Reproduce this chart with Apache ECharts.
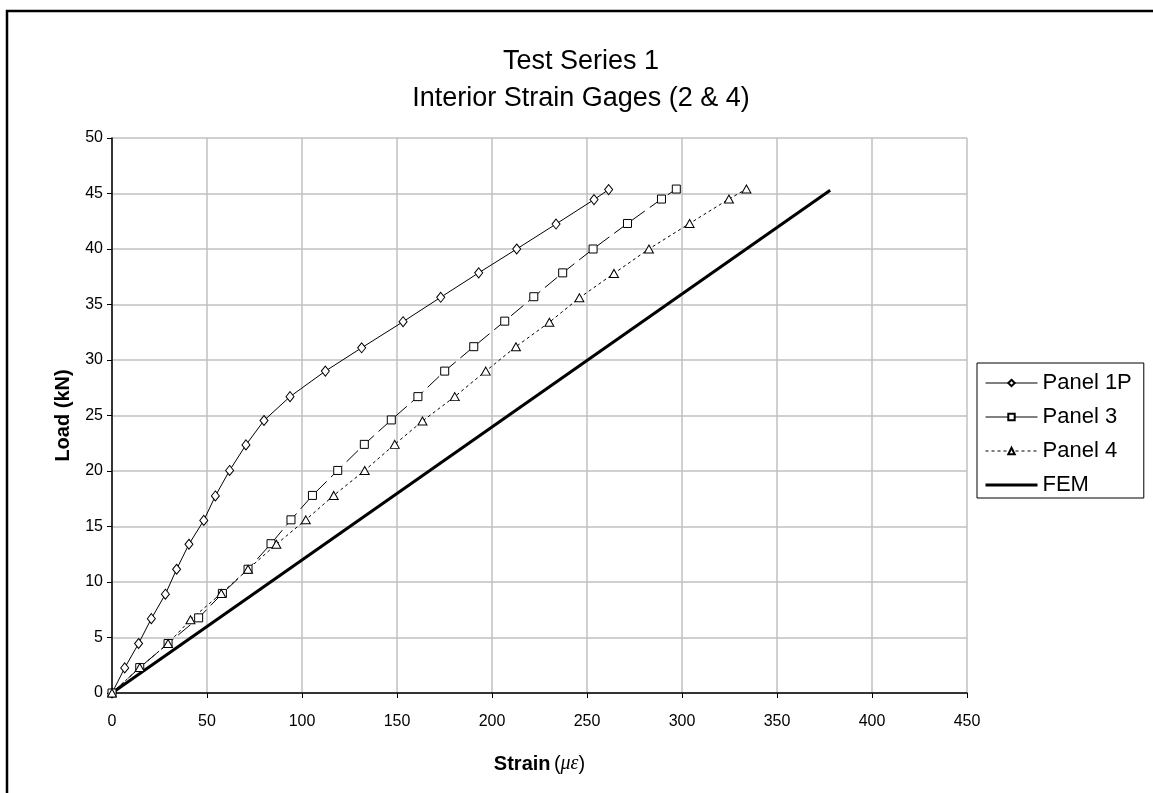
<!DOCTYPE html>
<html>
<head>
<meta charset="utf-8">
<script src="https://cdn.jsdelivr.net/npm/echarts@6/dist/echarts.min.js"></script>
<style>
html,body{margin:0;padding:0;background:#fff;}
#chart{width:1153px;height:793px;}
</style>
</head>
<body>
<div id="chart"></div>
<script>
// Values
const panel1P_strain = [0, 6.7, 14.0, 20.7, 28.1, 34.0, 40.5, 48.3, 54.4, 61.9, 70.5, 80.0, 93.7, 112.3, 131.4, 153.2, 173.0, 193.0, 213.0, 233.7, 253.7, 261.4];
const panel1P_load   = [0, 2.26, 4.46, 6.70, 8.90, 11.15, 13.40, 15.55, 17.75, 20.05, 22.35, 24.55, 26.70, 29.00, 31.10, 33.45, 35.65, 37.85, 40.00, 42.25, 44.45, 45.35];

const panel3_strain = [0, 14.6, 29.5, 45.6, 58.1, 71.6, 83.7, 94.2, 105.5, 118.8, 132.8, 147.0, 161.0, 175.1, 190.4, 206.7, 222.0, 237.2, 253.2, 271.3, 289.2, 297.0];
const panel3_load   = [0, 2.29, 4.46, 6.77, 8.97, 11.15, 13.45, 15.60, 17.80, 20.05, 22.40, 24.60, 26.70, 29.00, 31.20, 33.50, 35.70, 37.85, 40.00, 42.30, 44.50, 45.40];

const panel4_strain = [0, 14.6, 29.5, 41.3, 57.5, 71.6, 86.5, 102.0, 116.7, 133.0, 148.8, 163.4, 180.4, 196.7, 212.6, 230.2, 246.0, 264.2, 282.6, 304.0, 324.7, 333.9];
const panel4_load   = [0, 2.29, 4.46, 6.60, 8.97, 11.15, 13.40, 15.60, 17.80, 20.05, 22.40, 24.50, 26.70, 29.00, 31.20, 33.40, 35.60, 37.80, 40.00, 42.30, 44.50, 45.40];

const fem_strain = [0, 378];
const fem_load   = [0, 45.3];

const xTicks = [0, 50, 100, 150, 200, 250, 300, 350, 400, 450];
const yTicks = [0, 5, 10, 15, 20, 25, 30, 35, 40, 45, 50];

const seriesNames = ['Panel 1P', 'Panel 3', 'Panel 4', 'FEM'];

function pairs(xs, ys){ return xs.map((x,i)=>[x, ys[i]]); }

const FONT = "'Liberation Sans', Arial, sans-serif";
const chart = echarts.init(document.getElementById('chart'), null, {renderer:'canvas'});

const markerStyle = {color:'#fff', borderColor:'#000', borderWidth:1};

const option = {
  backgroundColor:'#fff',
  animation:false,
  title:{
    text:'Test Series 1\nInterior Strain Gages (2 & 4)',
    left:576, top:38, textAlign:'center',
    textStyle:{fontFamily:FONT, fontSize:27, fontWeight:'normal', color:'#000', lineHeight:37}
  },
  grid:{left:112, right:186, top:138, bottom:100, containLabel:false},
  legend:{
    orient:'vertical',
    left:977, top:363,
    padding:[8,12,1,7],
    itemGap:10,
    itemWidth:52,
    itemHeight:8,
    borderColor:'#000', borderWidth:1,
    backgroundColor:'#fff',
    textStyle:{fontFamily:FONT, fontSize:22, color:'#000', lineHeight:24, height:24},
    data:[
      {name:'Panel 1P', lineStyle:{type:'solid', width:1}},
      {name:'Panel 3', lineStyle:{type:'solid', width:1}},
      {name:'Panel 4', lineStyle:{type:[3,3], width:1}},
      {name:'FEM', lineStyle:{width:3}, itemStyle:{opacity:0}}
    ]
  },
  xAxis:{
    type:'value', min:0, max:450, interval:50,
    name:'{b|Strain} {n|(}{i|με}{n|)}',
    nameLocation:'middle', nameGap:61,
    nameTextStyle:{rich:{
      b:{fontFamily:FONT, fontSize:20, fontWeight:'bold', color:'#000'},
      n:{fontFamily:FONT, fontSize:20, color:'#000'},
      i:{fontFamily:"'Liberation Serif', 'DejaVu Serif', serif", fontSize:20, fontStyle:'italic', color:'#000'}
    }},
    axisLine:{show:true, onZero:false, lineStyle:{color:'#000', width:1.5}},
    axisTick:{show:true, inside:false, length:5, lineStyle:{color:'#000'}},
    axisLabel:{fontFamily:FONT, fontSize:16, color:'#000', margin:21,
      formatter:v=>xTicks.includes(v)?String(v):''},
    splitLine:{show:true, lineStyle:{color:'#c0c0c0', width:1.5}}
  },
  yAxis:{
    type:'value', min:0, max:50, interval:5,
    name:'Load (kN)',
    nameLocation:'middle', nameGap:39,
    nameTextStyle:{fontFamily:FONT, fontSize:20, fontWeight:'bold', color:'#000'},
    axisLine:{show:true, onZero:false, lineStyle:{color:'#000', width:1.5}},
    axisTick:{show:true, inside:false, length:5, lineStyle:{color:'#000'}},
    axisLabel:{fontFamily:FONT, fontSize:16, color:'#000', margin:9,
      formatter:v=>yTicks.includes(v)?String(v):''},
    splitLine:{show:true, lineStyle:{color:'#c0c0c0', width:1.5}}
  },
  series:[
    {name:seriesNames[0], type:'line', data:pairs(panel1P_strain, panel1P_load),
     symbol:'diamond', symbolSize:[8,10], itemStyle:markerStyle,
     lineStyle:{color:'#000', width:1}, z:3},
    {name:seriesNames[1], type:'line', data:pairs(panel3_strain, panel3_load),
     symbol:'rect', symbolSize:8, itemStyle:markerStyle,
     lineStyle:{color:'#000', width:1, type:[16,6]}, z:3},
    {name:seriesNames[2], type:'line', data:pairs(panel4_strain, panel4_load),
     symbol:'triangle', symbolSize:[9,8], itemStyle:markerStyle,
     lineStyle:{color:'#000', width:1, type:[3,3]}, z:3},
    {name:seriesNames[3], type:'line', data:pairs(fem_strain, fem_load),
     symbol:'none', showSymbol:false, itemStyle:{color:'#000'},
     lineStyle:{color:'#000', width:3}, z:2}
  ],
  graphic:[
    {type:'rect', shape:{x:7, y:11, width:1200, height:900},
     style:{fill:null, stroke:'#000', lineWidth:2.5}, silent:true, z:100}
  ]
};
chart.setOption(option);
</script>
</body>
</html>
